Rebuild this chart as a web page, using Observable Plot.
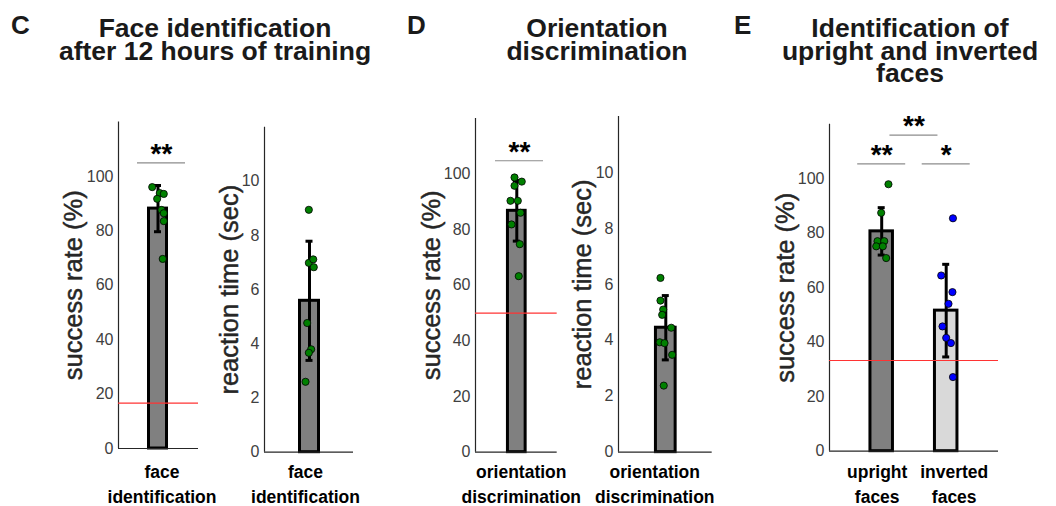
<!DOCTYPE html>
<html><head><meta charset="utf-8">
<script src="https://cdn.jsdelivr.net/npm/d3@7"></script>
<script src="https://cdn.jsdelivr.net/npm/@observablehq/plot@0.6"></script>
<style>
body{margin:0;background:#fff;}
#fig{position:relative;width:1056px;height:506px;background:#fff;font-family:"Liberation Sans",Arial,Helvetica,sans-serif;overflow:hidden}
.ttl{position:absolute;font-weight:bold;font-size:26.5px;line-height:22.5px;text-align:center;color:#1a1a1a;white-space:pre;transform:translateX(-50%)}
.lt{position:absolute;font-weight:bold;font-size:26px;line-height:26px;color:#1a1a1a}
</style></head><body><div id="fig"></div>
<script>
// ---------- data ----------
const panelLetters = ["C", "D", "E"];
const panelTitles = ["Face identification\nafter 12 hours of training", "Orientation\ndiscrimination", "Identification of\nupright and inverted\nfaces"];

const faceCategory = ["face\nidentification"];
const faceSuccessMean = [88.2];
const faceSuccessErr = [8.5];
const faceSuccessPoints = [96.1, 93.9, 93.6, 91.8, 87.7, 86.5, 83.6, 69.7];
const faceSuccessJitter = [-0.55, 0.17, 0.55, -0.08, 0.33, 0.55, 0.55, 0.45];
const faceChance = 16.7;
const faceSig = ["**"];

const faceRTMean = [5.59];
const faceRTErr = [2.2];
const faceRTPoints = [8.95, 6.99, 7.12, 6.83, 4.77, 3.80, 3.67, 2.60];
const faceRTJitter = [-0.06, -0.06, 0.34, 0.39, -0.21, 0.15, -0.06, -0.36];

const oriCategory = ["orientation\ndiscrimination"];
const oriSuccessMean = [86.8];
const oriSuccessErr = [10.9];
const oriSuccessPoints = [98.8, 95.8, 97.3, 90.4, 90.4, 86.1, 81.9, 74.8, 63.3];
const oriSuccessJitter = [-0.22, -0.22, 0.48, -0.61, 0.1, 0.36, -0.51, 0.29, 0.19];
const oriChance = 50;
const oriSig = ["**"];

const oriRTMean = [4.45];
const oriRTErr = [1.15];
const oriRTPoints = [6.23, 5.42, 5.10, 4.91, 4.45, 3.93, 3.90, 3.48, 2.38];
const oriRTJitter = [-0.47, -0.47, -0.23, -0.32, 0.48, -0.53, -0.11, 0.56, -0.18];

const invCategories = ["upright\nfaces", "inverted\nfaces"];
const invMeans = [80.7, 51.6];
const invErrs = [8.7, 17.0];
const uprightPoints = [98.0, 87.5, 77.1, 77.1, 75.2, 75.2, 70.9];
const uprightJitter = [0.53, -0.04, -0.33, 0.2, -0.43, 0.09, 0.35];
const invertedPoints = [85.5, 64.5, 58.4, 54.1, 45.8, 41.6, 39.7, 27.2];
const invertedJitter = [0.53, -0.39, 0.49, 0.18, -0.29, 0, 0.37, 0.53];
const invChance = 33.3;
const invSig = ["**", "*", "**"];

const pctTicks = [0, 20, 40, 60, 80, 100];
const secTicks = [0, 2, 4, 6, 8, 10];

// ---------- drawing ----------
const fig = document.getElementById("fig");
const FONT = '"Liberation Sans", Arial, Helvetica, sans-serif';

function panel(cfg) {
  const svgTop = 100, H = 406;
  const marginTop = cfg.yTopPx - svgTop, marginBottom = svgTop + H - cfg.y0px;
  const marginLeft = 70, marginRight = 24;
  const W = marginLeft + cfg.axisLen + marginRight;
  const half = cfg.halfOuter - 1.5;
  const capHalf = 3.5;
  const bars = cfg.cats.map((c, i) => ({c, x: cfg.centers[i], lx: cfg.centers[i] + cfg.labelShift[i], m: cfg.means[i], lo: cfg.means[i] - cfg.errs[i], hi: cfg.means[i] + cfg.errs[i], fill: cfg.fills[i]}));
  const dots = cfg.points.flatMap((arr, i) => arr.map((v, j) => ({x: cfg.centers[i] + cfg.jitters[i][j] * cfg.halfOuter, v, color: cfg.dotColors[i]})));
  const caps = bars.flatMap(b => [{x1: b.x - capHalf, x2: b.x + capHalf, y: b.lo}, {x1: b.x - capHalf, x2: b.x + capHalf, y: b.hi}]);
  const sig = (cfg.sig || []).map((s, k) => {
    const mid = (cfg.centers[s.a] + cfg.centers[s.b]) / 2 + (cfg.sigShift || 0);
    return {x1: mid - 24, x2: mid + 24, mid, y: s.y, t: cfg.sigLabels[k]};
  });
  const fs = 17.5;
  const catDy = 472.5 - cfg.y0px - 0.71 * fs;
  const marks = [
    Plot.rectY(bars, {x1: d => d.x - half, x2: d => d.x + half, y: "m", fill: "fill", stroke: "#000", strokeWidth: 3}),
    Plot.ruleX([0], {y1: 0, y2: cfg.yMax, stroke: "#262626", strokeWidth: 1.2}),
    Plot.ruleY([0], {stroke: "#262626", strokeWidth: 1.2}),
    cfg.chance != null ? Plot.ruleY([cfg.chance], {stroke: "#ff3333", strokeWidth: 1.2}) : null,
    Plot.ruleX(bars, {x: "x", y1: "lo", y2: "hi", stroke: "#000", strokeWidth: 3}),
    Plot.ruleY(caps, {x1: "x1", x2: "x2", y: "y", stroke: "#000", strokeWidth: 3}),
    Plot.dot(dots, {x: "x", y: "v", r: 3.6, fill: "color", stroke: "#000", strokeWidth: 0.8}),
    Plot.ruleY(sig, {x1: "x1", x2: "x2", y: "y", stroke: "#8c8c8c", strokeWidth: 1.2}),
    Plot.text(sig, {x: "mid", y: "y", text: "t", fontSize: 28, fontWeight: "bold", lineAnchor: "middle", dy: -9, fill: "#000"}),
    Plot.axisY({ticks: cfg.yTicks, tickSize: 0, tickPadding: 5, fontSize: 16, color: "#404040", label: null}),
    Plot.text([cfg.label], {frameAnchor: "left", rotate: -90, dx: -cfg.labelOff, fontSize: 25.5, fill: "#262626", stroke: "#262626", strokeWidth: 0.45, textAnchor: "middle", lineAnchor: "middle"}),
    Plot.text(bars, {x: "lx", text: "c", frameAnchor: "bottom", lineAnchor: "top", dy: catDy, fontSize: fs, fontWeight: "bold", lineHeight: 1.43, fill: "#000"})
  ].filter(Boolean);
  const svg = Plot.plot({
    width: W, height: H, marginLeft, marginRight, marginTop, marginBottom,
    x: {domain: [0, cfg.axisLen], axis: null},
    y: {domain: [0, cfg.yMax]},
    style: {overflow: "visible", background: "transparent", fontFamily: FONT},
    marks
  });
  svg.style.position = "absolute";
  svg.style.left = (cfg.axisX - marginLeft) + "px";
  svg.style.top = svgTop + "px";
  fig.appendChild(svg);
}

const GRAY = "#808080", LIGHT = "#d9d9d9", GREEN = "#008000", BLUE = "#0000ff";

panel({axisX: 118, axisLen: 80, y0px: 448, yTopPx: 121.6, yMax: 120, yTicks: pctTicks,
  centers: [39.5], labelShift: [4], halfOuter: 10.5, cats: faceCategory, means: faceSuccessMean, errs: faceSuccessErr,
  fills: [GRAY], points: [faceSuccessPoints], jitters: [faceSuccessJitter], dotColors: [GREEN],
  chance: faceChance, sig: [{a: 0, b: 0, y: 105}], sigLabels: faceSig, sigShift: 3.5,
  label: "success rate (%)", labelOff: 44.5});

panel({axisX: 264, axisLen: 89, y0px: 451.7, yTopPx: 126.7, yMax: 12, yTicks: secTicks,
  centers: [45], labelShift: [-4], halfOuter: 11, cats: faceCategory, means: faceRTMean, errs: faceRTErr,
  fills: [GRAY], points: [faceRTPoints], jitters: [faceRTJitter], dotColors: [GREEN],
  label: "reaction time (sec)", labelOff: 35});

panel({axisX: 475, axisLen: 81.7, y0px: 451.7, yTopPx: 118, yMax: 120, yTicks: pctTicks,
  centers: [41.3], labelShift: [4.5], halfOuter: 10.35, cats: oriCategory, means: oriSuccessMean, errs: oriSuccessErr,
  fills: [GRAY], points: [oriSuccessPoints], jitters: [oriSuccessJitter], dotColors: [GREEN],
  chance: oriChance, sig: [{a: 0, b: 0, y: 104.8}], sigLabels: oriSig, sigShift: 2.7,
  label: "success rate (%)", labelOff: 43.3});

panel({axisX: 618, axisLen: 93.7, y0px: 451.7, yTopPx: 116.1, yMax: 12, yTicks: secTicks,
  centers: [47.3], labelShift: [-11], halfOuter: 11.35, cats: oriCategory, means: oriRTMean, errs: oriRTErr,
  fills: [GRAY], points: [oriRTPoints], jitters: [oriRTJitter], dotColors: [GREEN],
  label: "reaction time (sec)", labelOff: 35.5});

panel({axisX: 829.3, axisLen: 169, y0px: 450.7, yTopPx: 123.8, yMax: 120, yTicks: pctTicks,
  centers: [52.2, 116.7], labelShift: [-4.5, 8], halfOuter: 12.75, cats: invCategories, means: invMeans, errs: invErrs,
  fills: [GRAY, LIGHT], points: [uprightPoints, invertedPoints], jitters: [uprightJitter, invertedJitter], dotColors: [GREEN, BLUE],
  chance: invChance, sig: [{a: 0, b: 0, y: 105.5}, {a: 1, b: 1, y: 105.5}, {a: 0, b: 1, y: 116}], sigLabels: invSig,
  label: "success rate (%)", labelOff: 43.3});

// titles and panel letters
const titleCenters = [215, 597, 910];
const letterLefts = [11, 407, 734];
panelTitles.forEach((t, i) => {
  const d = document.createElement("div");
  d.className = "ttl"; d.textContent = t;
  d.style.left = titleCenters[i] + "px"; d.style.top = "17px";
  fig.appendChild(d);
  const l = document.createElement("div");
  l.className = "lt"; l.textContent = panelLetters[i];
  l.style.left = letterLefts[i] + "px"; l.style.top = "12px";
  fig.appendChild(l);
});
</script></body></html>
